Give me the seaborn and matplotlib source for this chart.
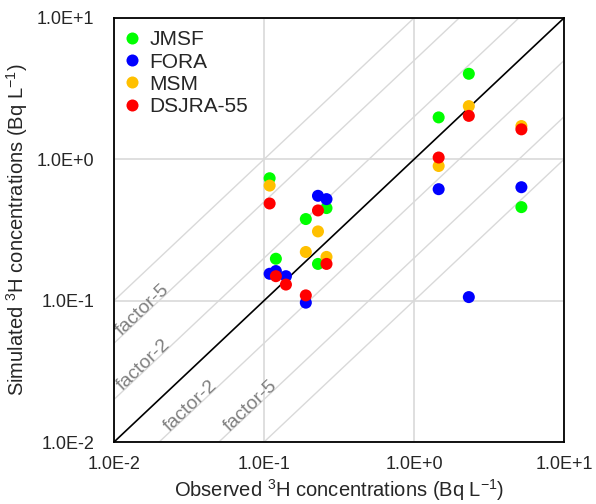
import numpy as np
import pandas as pd
import matplotlib
matplotlib.use("Agg")
import matplotlib.pyplot as plt
import seaborn as sns
from matplotlib.ticker import FixedLocator, FuncFormatter, NullLocator

# =========================
# DATA
# =========================
observed = [0.109, 0.120, 0.140, 0.190, 0.229, 0.261, 1.46, 2.32, 5.20]
jmsf = [0.735, 0.198, np.nan, 0.378, 0.182, 0.452, 1.98, 4.03, 0.459]
fora = [0.155, 0.162, 0.149, 0.0968, 0.552, 0.523, 0.615, 0.106, 0.635]
msm = [0.652, np.nan, np.nan, 0.221, 0.309, 0.204, 0.897, 2.38, 1.72]
dsjra55 = [0.487, 0.149, 0.130, 0.109, 0.435, 0.182, 1.03, 2.03, 1.63]

models = ["JMSF", "FORA", "MSM", "DSJRA-55"]
colors = ["#00ff00", "#0000ff", "#ffc000", "#ff0000"]

factors = [0.1, 0.2, 0.5, 2, 5, 10]
decades = [0.01, 0.1, 1, 10]
tick_labels = ["1.0E-2", "1.0E-1", "1.0E+0", "1.0E+1"]

# factor labels: (text, factor, x position along the line)
factor_labels = [("factor-5", 5, 0.0163), ("factor-2", 2, 0.0166),
                 ("factor-2", 0.5, 0.0340), ("factor-5", 0.2, 0.0850)]

df = pd.DataFrame({
    "observed": observed * 4,
    "simulated": jmsf + fora + msm + dsjra55,
    "model": [m for m in models for _ in observed],
})

# =========================
# STYLE
# =========================
sns.set_style("white")
plt.rcParams["font.family"] = ["Liberation Sans", "DejaVu Sans"]
plt.rcParams["mathtext.fontset"] = "custom"
plt.rcParams["mathtext.rm"] = "Liberation Sans"
plt.rcParams["mathtext.default"] = "regular"

fig = plt.figure(figsize=(5.96, 5.04), dpi=100)
ax = fig.add_axes([0.1913, 0.123, 0.7550, 0.8413])

ax.set_xscale("log")
ax.set_yscale("log")
ax.set_xlim(0.01, 10)
ax.set_ylim(0.01, 10)

# reference lines
xx = np.array([0.01, 10])
for k in factors:
    ax.plot(xx, k * xx, color="#d9d9d9", lw=1.0, zorder=1)
ax.plot(xx, xx, color="black", lw=1.2, zorder=2)

# factor labels sit on their lines
ang = 43.4
for txt, k, x0 in factor_labels:
    ax.text(x0, k * x0, txt, color="#808080", fontsize=14, rotation=ang,
            rotation_mode="anchor", ha="center", va="baseline", zorder=2)

sns.scatterplot(
    data=df, x="observed", y="simulated", hue="model",
    hue_order=models, palette=colors, s=75, linewidth=0,
    ax=ax, zorder=5, legend=True,
)

# grid and ticks
ax.xaxis.set_major_locator(FixedLocator(decades))
ax.yaxis.set_major_locator(FixedLocator(decades))
ax.xaxis.set_minor_locator(NullLocator())
ax.yaxis.set_minor_locator(NullLocator())
fmt = FuncFormatter(lambda v, p: tick_labels[decades.index(v)] if v in decades else "")
ax.xaxis.set_major_formatter(fmt)
ax.yaxis.set_major_formatter(fmt)
ax.grid(True, color="#d9d9d9", lw=1.2, zorder=0)
ax.set_axisbelow(True)
ax.tick_params(axis="both", which="major", direction="out", length=4,
               color="#bfbfbf", labelsize=13)
ax.tick_params(axis="y", pad=10)
ax.tick_params(axis="x", pad=6)

for sp in ax.spines.values():
    sp.set_color("black")
    sp.set_linewidth(1.3)

ax.set_xlabel(r"Observed $^{3}$H concentrations (Bq L$^{-1}$)", fontsize=14.5, labelpad=3)
ax.set_ylabel(r"Simulated $^{3}$H concentrations (Bq L$^{-1}$)", fontsize=14.5, labelpad=5)

ax.legend(loc="upper left", frameon=False, fontsize=15, handletextpad=0.6,
          labelspacing=0.15, borderaxespad=0.2, borderpad=0.4,
          handlelength=0.5, title=None)

fig.savefig("out.png", dpi=100)
